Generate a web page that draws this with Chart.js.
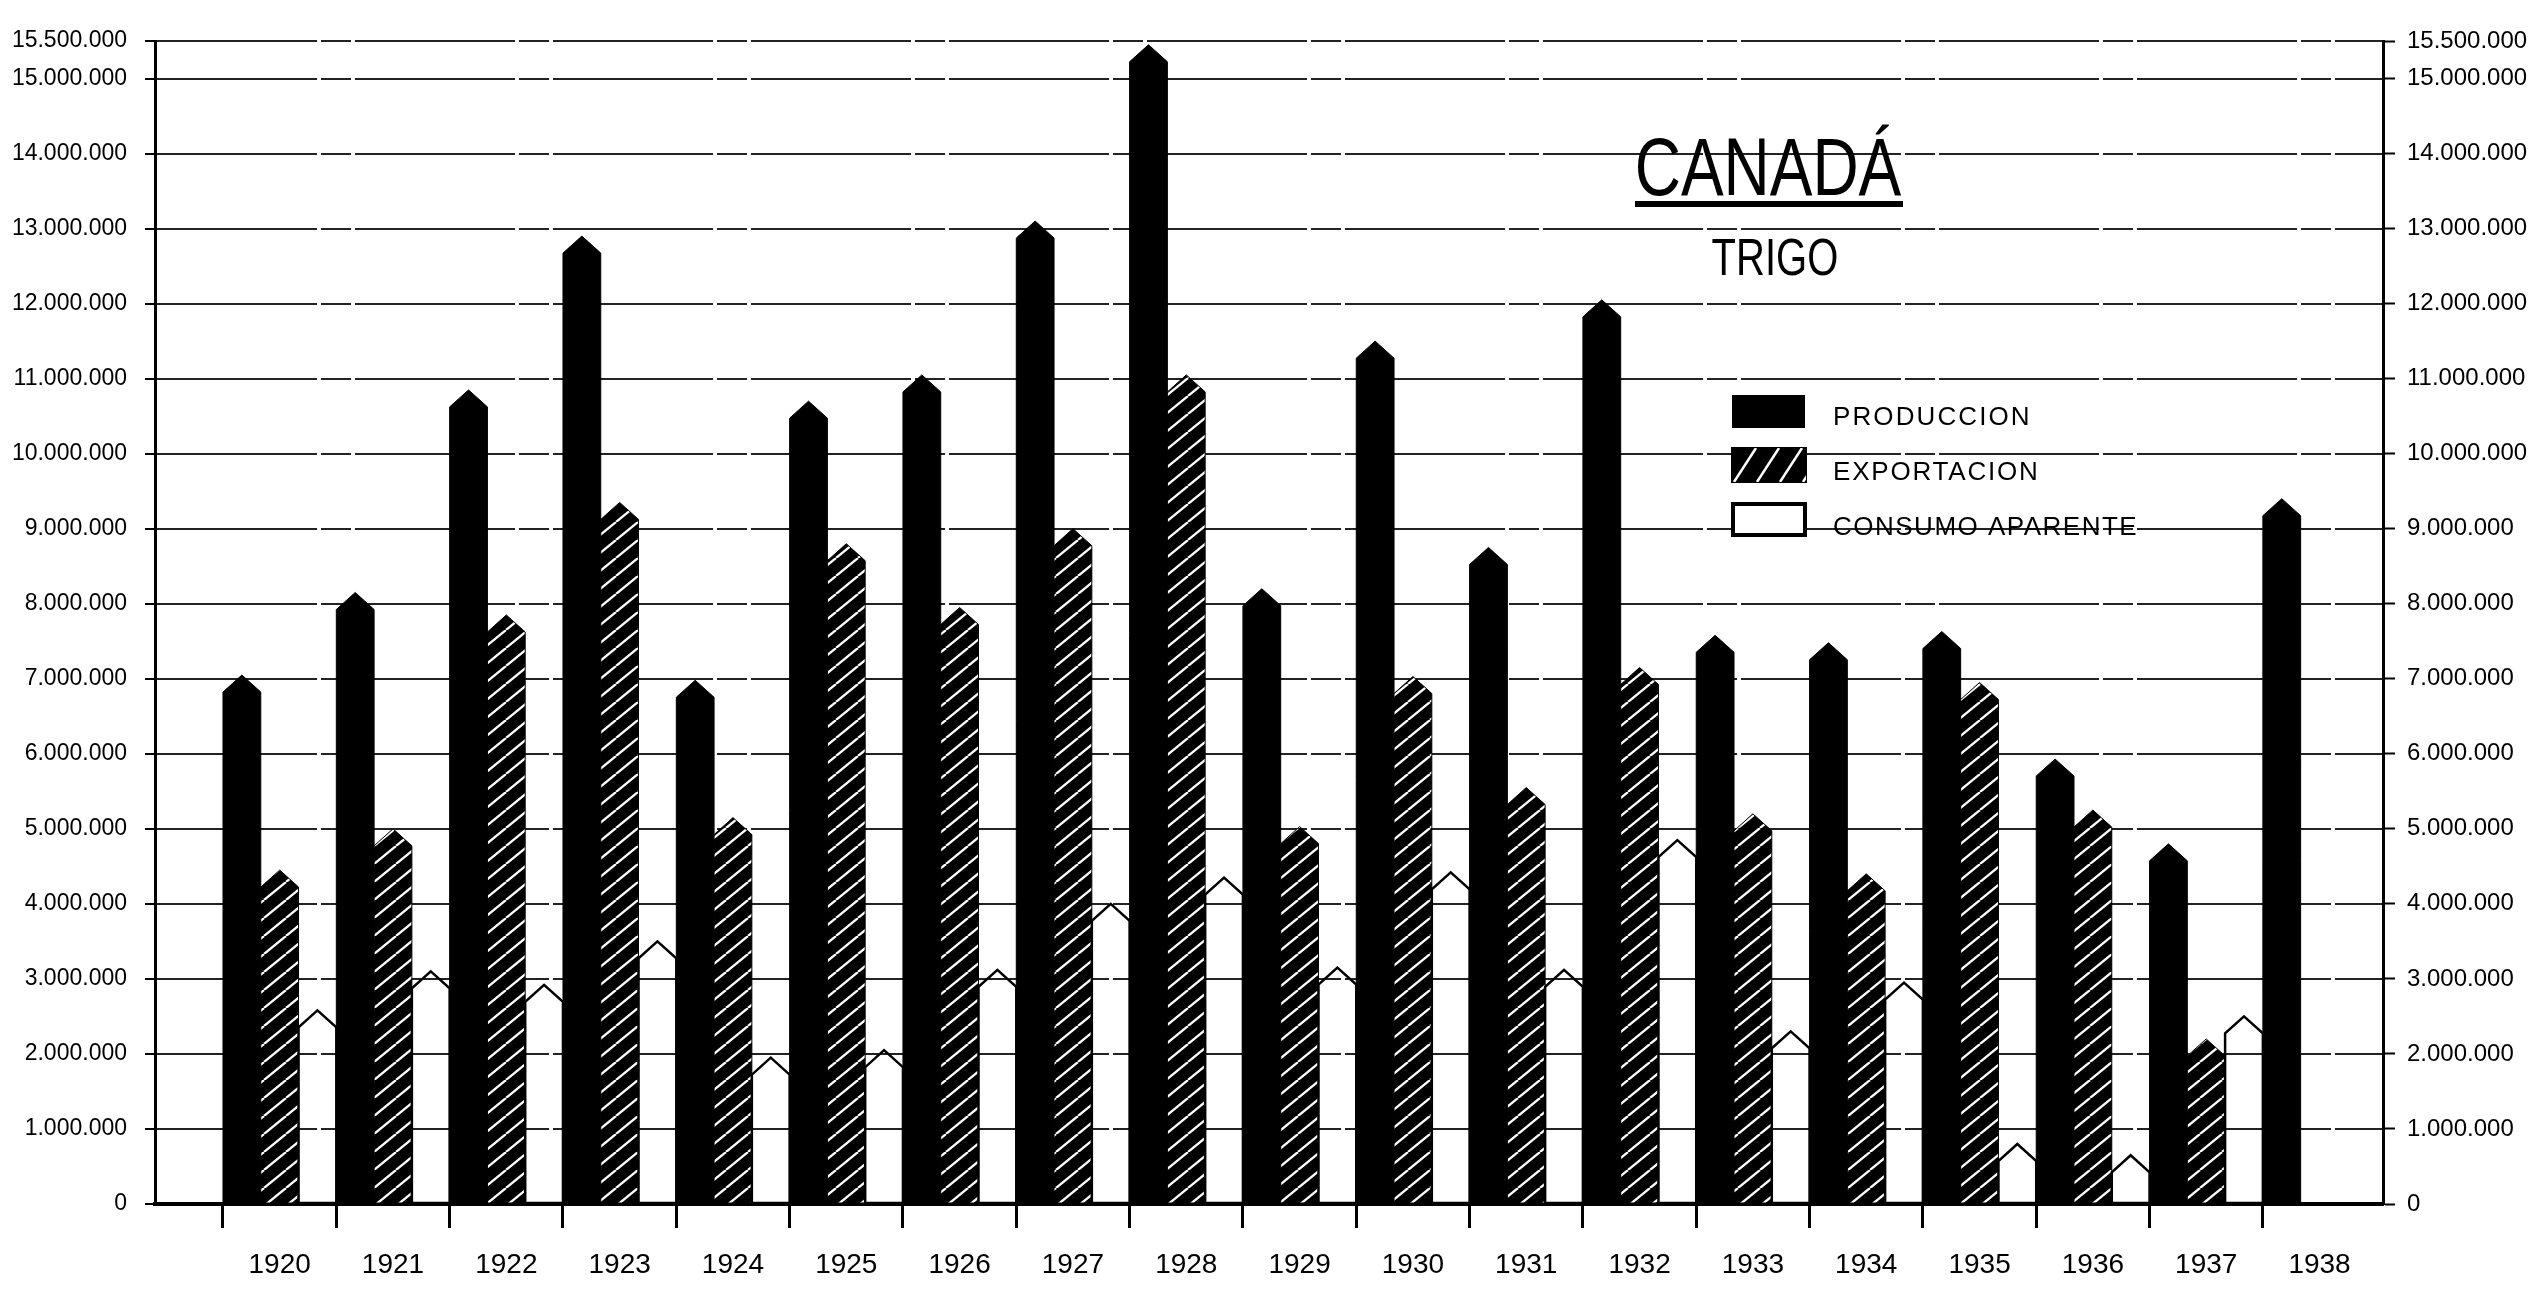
<!DOCTYPE html>
<html>
<head>
<meta charset="utf-8">
<title>Canadá - Trigo</title>
<script src="https://cdn.jsdelivr.net/npm/chart.js@4.4.1/dist/chart.umd.min.js"></script>
<style>
  html, body { margin: 0; padding: 0; background: #fff; }
  #wrap { width: 2533px; height: 1294px; }
</style>
</head>
<body>
<div id="wrap"><canvas id="trigo" width="2533" height="1294"></canvas></div>
<script>
// datos (toneladas)
var years = [1920, 1921, 1922, 1923, 1924, 1925, 1926, 1927, 1928, 1929,
             1930, 1931, 1932, 1933, 1934, 1935, 1936, 1937, 1938];
var produccion = [7050000, 8150000, 10850000, 12900000, 6980000, 10700000, 11050000, 13100000, 15450000, 8200000,
                  11500000, 8750000, 12050000, 7580000, 7480000, 7630000, 5930000, 4800000, 9400000];
var exportacion = [4450000, 5000000, 7850000, 9350000, 5150000, 8800000, 7950000, 9000000, 11050000, 5030000,
                   7030000, 5550000, 7150000, 5200000, 4400000, 6950000, 5250000, 2200000, null];
var consumo = [2580000, 3100000, 2920000, 3500000, 1950000, 2050000, 3120000, 4000000, 4350000, 3150000,
               4420000, 3120000, 4850000, 2300000, 2950000, 800000, 650000, 2500000, null];
var yTicks = [0, 1000000, 2000000, 3000000, 4000000, 5000000, 6000000, 7000000, 8000000,
              9000000, 10000000, 11000000, 12000000, 13000000, 14000000, 15000000, 15500000];
var seriesNames = ['PRODUCCION', 'EXPORTACION', 'CONSUMO APARENTE'];

var canvas = document.getElementById('trigo');
var ctx = canvas.getContext('2d');

function makeHatch(w, h, lw) {
  var c = document.createElement('canvas');
  c.width = w; c.height = h;
  var g = c.getContext('2d');
  g.fillStyle = '#000';
  g.fillRect(0, 0, w, h);
  g.strokeStyle = '#fff';
  g.lineWidth = lw;
  for (var k = -1; k <= 1; k++) {
    g.beginPath();
    g.moveTo(k * w, h);
    g.lineTo(k * w + w, 0);
    g.stroke();
  }
  return ctx.createPattern(c, 'repeat');
}
var hatch = makeHatch(22, 18, 2.3);

function puntos(v) {
  return String(v).replace(/\B(?=(\d{3})+(?!\d))/g, '.');
}

// barras con punta de flecha
var arrowBars = {
  id: 'arrowBars',
  beforeDatasetsDraw: function(chart) {
    var c = chart.ctx;
    c.save();
    chart.data.datasets.forEach(function(ds, d) {
      var meta = chart.getDatasetMeta(d);
      meta.data.forEach(function(el, i) {
        if (ds.data[i] == null) return;
        var p = el.getProps(['x', 'y', 'base', 'width'], true);
        var half = p.width / 2;
        var tip = p.width * 0.45;
        if (p.base - p.y < tip * 1.5) tip = (p.base - p.y) / 2;
        c.beginPath();
        c.moveTo(p.x - half, p.base);
        c.lineTo(p.x - half, p.y + tip);
        c.lineTo(p.x, p.y);
        c.lineTo(p.x + half, p.y + tip);
        c.lineTo(p.x + half, p.base);
        c.closePath();
        c.fillStyle = ds.backgroundColor;
        c.fill();
        c.lineWidth = ds.borderWidth;
        c.strokeStyle = ds.borderColor;
        c.lineJoin = 'miter';
        c.stroke();
      });
    });
    c.restore();
    return false;
  }
};

// titulo y leyenda
var titleLegend = {
  id: 'titleLegend',
  afterDraw: function(chart) {
    var c = chart.ctx;
    c.save();
    c.fillStyle = '#000';
    c.textBaseline = 'alphabetic';
    c.textAlign = 'center';

    c.save();
    c.translate(1768, 195);
    c.scale(0.78, 1);
    c.font = '82px "Liberation Sans"';
    c.fillText('CANADÁ', 0, 0);
    c.restore();

    c.fillRect(1635, 201, 268, 6);

    c.save();
    c.translate(1775, 275);
    c.scale(0.77, 1);
    c.font = '52px "Liberation Sans"';
    c.fillText('TRIGO', 0, 0);
    c.restore();

    var boxes = [[1733, 396, 71, 31], [1732, 448, 74, 34], [1733, 504, 72, 31]];
    var baselines = [425, 480, 535];
    var widths = [197, 205, 303];
    chart.data.datasets.forEach(function(ds, d) {
      var b = boxes[d];
      c.beginPath();
      c.rect(b[0], b[1], b[2], b[3]);
      c.fillStyle = d === 2 ? '#fff' : '#000';
      c.fill();
      c.lineWidth = d === 2 ? 4 : 2;
      c.strokeStyle = '#000';
      c.stroke();
      if (d === 1) {
        // rayas de la muestra
        c.save();
        c.beginPath();
        c.rect(b[0], b[1], b[2], b[3]);
        c.clip();
        c.strokeStyle = '#fff';
        c.lineWidth = 2.5;
        for (var k = 0; k < 4; k++) {
          var x0 = b[0] + 2 + k * 23;
          c.beginPath();
          c.moveTo(x0, b[1] + b[3]);
          c.lineTo(x0 + 22, b[1]);
          c.stroke();
        }
        c.restore();
      }
      c.fillStyle = '#000';
      c.textAlign = 'left';
      c.font = '26px "Liberation Sans"';
      var n = ds.label.length;
      var natural = c.measureText(ds.label).width;
      var sp = Math.max(0, (widths[d] - natural) / (n - 1));
      c.letterSpacing = sp.toFixed(1) + 'px';
      c.fillText(ds.label, 1833, baselines[d]);
      c.letterSpacing = '0px';
    });
    c.restore();
  }
};

var fixedTicks = function(scale) {
  scale.ticks = yTicks.map(function(v) { return { value: v }; });
};

new Chart(ctx, {
  type: 'bar',
  data: {
    labels: years,
    datasets: [
      { label: seriesNames[0], data: produccion, backgroundColor: '#000', borderColor: '#000', borderWidth: 1 },
      { label: seriesNames[1], data: exportacion, backgroundColor: hatch, borderColor: '#000', borderWidth: 1 },
      { label: seriesNames[2], data: consumo, backgroundColor: 'rgba(0,0,0,0)', borderColor: '#000', borderWidth: 2.5 }
    ]
  },
  options: {
    responsive: false,
    animation: false,
    events: [],
    layout: { padding: { top: 41, left: 0, right: 0, bottom: 0 } },
    datasets: { bar: { categoryPercentage: 1, barPercentage: 1 } },
    plugins: { legend: { display: false }, tooltip: { enabled: false } },
    scales: {
      x: {
        type: 'linear',
        min: 1918.9,
        max: 1938.56,
        offset: false,
        afterBuildTicks: function(scale) {
          scale.ticks = years.map(function(v) { return { value: v }; });
        },
        afterFit: function(scale) { scale.height = 90; },
        grid: {
          offset: true,
          drawOnChartArea: false,
          drawTicks: true,
          tickLength: 24,
          tickWidth: 3,
          tickColor: function(c) { return c.type === 'tick' ? '#000' : 'rgba(0,0,0,0)'; }
        },
        border: { display: true, color: '#000', width: 4 },
        ticks: {
          autoSkip: false,
          maxRotation: 0,
          padding: 20,
          color: '#000',
          font: { family: 'Liberation Sans', size: 28 },
          callback: function(v) { return String(v); }
        }
      },
      y: {
        type: 'linear',
        position: 'left',
        min: 0,
        max: 15500000,
        afterBuildTicks: fixedTicks,
        afterFit: function(scale) { scale.width = 155; },
        grid: { color: '#222', lineWidth: 2, tickLength: 10, tickColor: '#000', tickWidth: 2 },
        border: { display: true, color: '#000', width: 3, dash: [160, 4, 30, 4] },
        ticks: {
          padding: 18,
          color: '#000',
          font: { family: 'Liberation Sans', size: 23 },
          callback: function(v) { return puntos(v); }
        }
      },
      y2: {
        type: 'linear',
        position: 'right',
        min: 0,
        max: 15500000,
        afterBuildTicks: fixedTicks,
        afterFit: function(scale) { scale.width = 150; },
        grid: { drawOnChartArea: false, tickLength: 12, tickColor: '#000', tickWidth: 2 },
        border: { display: true, color: '#000', width: 3 },
        ticks: {
          padding: 12,
          color: '#000',
          font: { family: 'Liberation Sans', size: 24 },
          callback: function(v) { return puntos(v); }
        }
      }
    }
  },
  plugins: [arrowBars, titleLegend]
});
</script>
</body>
</html>
